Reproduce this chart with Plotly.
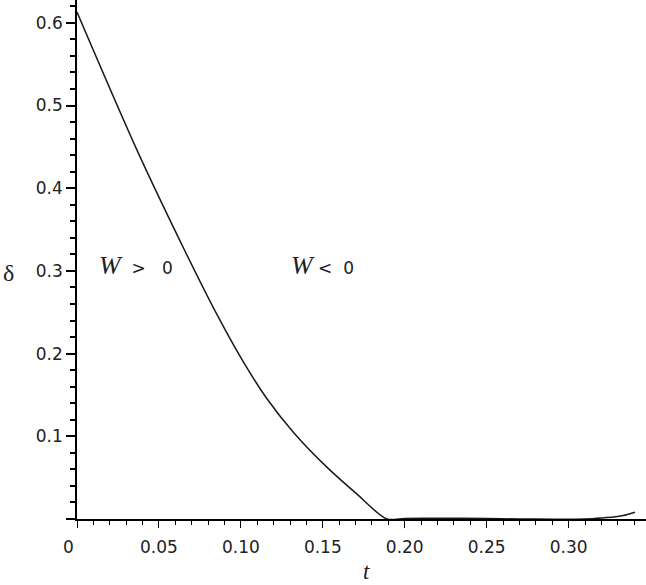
import plotly.graph_objects as go

# Data
t_vals = [0.0, 0.0364, 0.0664, 0.0852, 0.1015, 0.1157, 0.132, 0.1523, 0.1707, 0.189,
          0.20, 0.22, 0.25, 0.27, 0.29, 0.31, 0.32, 0.33, 0.3333, 0.3405]
delta_vals = [0.613, 0.447, 0.322, 0.248, 0.190, 0.146, 0.105, 0.063, 0.0303, 0.0,
              0.0006, 0.001, 0.0005, 0.0, -0.0002, 0.0, 0.0012, 0.003, 0.0042, 0.0082]

x_tickvals = [0, 0.05, 0.10, 0.15, 0.20, 0.25, 0.30]
x_ticktext = ["", "0.05", "0.10", "0.15", "0.20", "0.25", "0.30"]
y_tickvals = [0, 0.1, 0.2, 0.3, 0.4, 0.5, 0.6]
y_ticktext = ["", "0.1", "0.2", "0.3", "0.4", "0.5", "0.6"]

W, H = 646, 585
L, R, T, B = 77, 0, 0, 66
x_range = [0, 0.3472]
y_range = [0, 0.6276]

tick_font = dict(family="DejaVu Sans", size=17, color="#222222")

fig = go.Figure()
fig.add_trace(go.Scatter(
    x=t_vals, y=delta_vals, mode="lines",
    line=dict(color="#1a1a1a", width=1.5, shape="spline", smoothing=0.8),
    hoverinfo="skip", showlegend=False,
))

fig.update_layout(
    width=W, height=H,
    margin=dict(l=L, r=R, t=T, b=B, autoexpand=False),
    paper_bgcolor="white", plot_bgcolor="white",
    showlegend=False,
    xaxis=dict(
        range=x_range, showgrid=False, zeroline=False, automargin=False,
        showline=True, linecolor="black", linewidth=1.5,
        tickmode="array", tickvals=x_tickvals, ticktext=x_ticktext,
        ticks="outside", ticklen=7, tickwidth=1.3, tickcolor="black",
        tickfont=tick_font, ticklabelstandoff=5,
        minor=dict(dtick=0.01, tick0=0, ticks="outside", ticklen=4,
                   tickwidth=1, tickcolor="black", showgrid=False),
    ),
    yaxis=dict(
        range=y_range, showgrid=False, zeroline=False, automargin=False,
        showline=True, linecolor="black", linewidth=1.5,
        tickmode="array", tickvals=y_tickvals, ticktext=y_ticktext,
        ticks="outside", ticklen=9, tickwidth=1.5, tickcolor="black",
        tickfont=tick_font, ticklabelstandoff=0,
        minor=dict(dtick=0.02, tick0=0, ticks="outside", ticklen=5,
                   tickwidth=1.5, tickcolor="black", showgrid=False),
    ),
)

PW = W - L - R
PH = H - T - B

def px_x(p):
    return (p - L) / PW

def px_y(p):
    return (H - B - p) / PH

W_SPAN = '<i><span style="font-family:Liberation Serif;font-size:26px">W</span></i>'

annos = [
    dict(text="0", x=px_x(68), y=px_y(547), font=tick_font),
    dict(text="δ", x=px_x(8), y=px_y(273),
         font=dict(family="Liberation Serif", size=24, color="#222222")),
    dict(text="<i>t</i>", x=px_x(366), y=px_y(571),
         font=dict(family="Liberation Serif", size=23, color="#222222")),
    dict(text=W_SPAN + "&nbsp; &gt;&nbsp; &nbsp;0", x=px_x(136), y=px_y(265), font=tick_font),
    dict(text=W_SPAN + " &lt;&nbsp; 0", x=px_x(322), y=px_y(265), font=tick_font),
]
for a in annos:
    fig.add_annotation(xref="paper", yref="paper", showarrow=False,
                       xanchor="center", yanchor="middle", **a)

fig.write_html("out.html", config={"displayModeBar": False},
               post_script="document.body.style.margin='0';")
